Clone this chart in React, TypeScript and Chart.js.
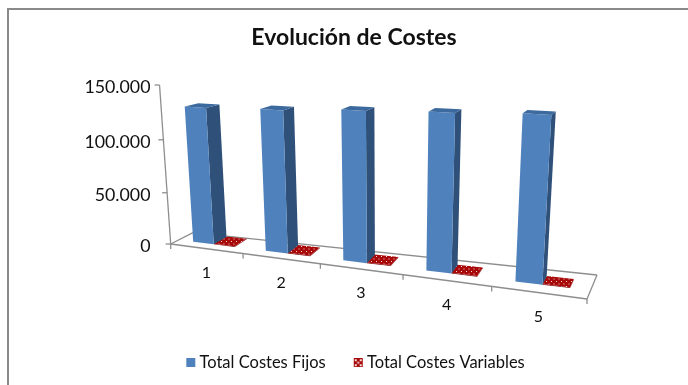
import React, { useEffect, useRef } from "react";
import { Chart, registerables } from "chart.js";

Chart.register(...registerables);

const categories = ["1", "2", "3", "4", "5"];
const fixedCosts = [127600, 129600, 133300, 135900, 138700];
const variableCosts = [700, 700, 700, 700, 700];
const yTickStep = 50000;
const yMax = 150000;

const FONT = "Lato, 'Open Sans', sans-serif";
const AXIS_COLOR = "#8e8e8e";
const FRAME_COLOR = "#8a8a8a";
const BLUE = { front: "#4f81bd", side: "#2f5179", top: "#3d6a9e" };
const RED = { base: "#a80808", side: "#7d0606", dot: "#f2dcdc" };

// Camera for the 3D look: floor corners on the canvas, plus where the verticals converge.
const floorFrontLeft = [170.7, 244];
const floorFrontRight = [587, 299];
const floorBackRight = [597, 275];
const floorBackLeft = [193, 232.7];
const verticalVanishing = [385, 3300];
const axisTop = [159, 85];
const foreshortening = -0.158;
const depthFlattening = 0.65;
const barDepthFront = 0.35;
const barDepthBackLeft = 0.97;
const barDepthBackRight = 0.68;

const lerp = (a: number, b: number, t: number) => a + (b - a) * t;
const lift = (axisTop[1] - floorFrontLeft[1]) / (verticalVanishing[1] - axisTop[1]);

// u: across the categories, n: share of the value axis, z: depth of the floor
function project(u: number, n: number, z: number): [number, number] {
  const w = 1 + foreshortening * u;
  const s = (u * (1 + foreshortening)) / w;
  const frontX = lerp(floorFrontLeft[0], floorFrontRight[0], s);
  const frontY = lerp(floorFrontLeft[1], floorFrontRight[1], s);
  const backX = lerp(floorBackLeft[0], floorBackRight[0], s);
  const backY = lerp(floorBackLeft[1], floorBackRight[1], s);
  const px = lerp(frontX, backX, z);
  // Behind the bars' front faces, depth reads flatter the higher a point sits.
  const pyFront = lerp(frontY, backY, Math.min(z, barDepthFront));
  const py = pyFront + (lerp(frontY, backY, z) - pyFront) * (1 - depthFlattening * n);
  return [
    (w * px + lift * n * verticalVanishing[0]) / (w + lift * n),
    (w * py + lift * n * verticalVanishing[1]) / (w + lift * n),
  ];
}

function fillQuad(ctx: CanvasRenderingContext2D, pts: [number, number][], fill: any) {
  ctx.beginPath();
  pts.forEach((p, i) => (i ? ctx.lineTo(p[0], p[1]) : ctx.moveTo(p[0], p[1])));
  ctx.closePath();
  ctx.fillStyle = fill;
  ctx.fill();
}

function strokeLine(ctx: CanvasRenderingContext2D, a: number[], b: number[]) {
  ctx.beginPath();
  ctx.moveTo(a[0], a[1]);
  ctx.lineTo(b[0], b[1]);
  ctx.stroke();
}

function makeDotPattern() {
  const tile = document.createElement("canvas");
  tile.width = 5;
  tile.height = 5;
  const c = tile.getContext("2d")!;
  c.fillStyle = RED.base;
  c.fillRect(0, 0, 5, 5);
  c.fillStyle = RED.dot;
  c.fillRect(1, 1, 1, 1);
  c.fillRect(3.5, 3.5, 1, 1);
  return c.createPattern(tile, "repeat")!;
}

// Legend swatches: the image is wider than its square so the square sits close to the text.
function makeSwatch(color: string, dotted: boolean) {
  const sw = document.createElement("canvas");
  sw.width = 16;
  sw.height = 9;
  const c = sw.getContext("2d")!;
  c.fillStyle = color;
  c.fillRect(5, 0, 9, 9);
  if (dotted) {
    c.fillStyle = RED.dot;
    [[6, 1], [11, 1], [8.5, 3.5], [6, 6], [11, 6]].forEach(([x, y]) => c.fillRect(x, y, 2, 2));
  }
  return sw;
}

const formatThousands = (v: number) => String(v).replace(/\B(?=(\d{3})+$)/g, ".");

const perspectiveAxes = {
  id: "perspectiveAxes",
  afterLayout(chart: any) {
    chart.legend.left += 2;
    chart.legend.right += 2;
  },
  beforeDatasetsDraw(chart: any) {
    const { ctx, scales } = chart;
    const xs = scales.x;
    const ys = scales.y;
    ctx.save();

    ctx.strokeStyle = FRAME_COLOR;
    ctx.lineWidth = 2;
    ctx.beginPath();
    ctx.moveTo(8, 385);
    ctx.lineTo(8, 9);
    ctx.lineTo(688, 9);
    ctx.stroke();

    ctx.strokeStyle = AXIS_COLOR;
    ctx.lineWidth = 1.3;
    const corners = [[0, 0], [1, 0], [1, 1], [0, 1]].map(([u, z]) => project(u, 0, z));
    corners.forEach((c, i) => strokeLine(ctx, c, corners[(i + 1) % 4]));
    strokeLine(ctx, project(0, 0, 0), project(0, 1, 0));

    ctx.fillStyle = "#111";
    ctx.textBaseline = "middle";
    ctx.font = `17.8px ${FONT}`;
    ctx.textAlign = "right";
    ys.ticks.forEach((t: any) => {
      const p = project(0, t.value / ys.max, 0);
      strokeLine(ctx, p, [p[0] - 5, p[1]]);
      ctx.fillText(formatThousands(t.value), 150.5, p[1] + 2);
    });

    const n = xs.ticks.length;
    ctx.font = `16px ${FONT}`;
    ctx.textAlign = "center";
    for (let i = 0; i <= n; i++) {
      const p = project(i / n, 0, 0);
      strokeLine(ctx, p, [p[0], p[1] + 5]);
    }
    xs.ticks.forEach((t: any, i: number) => {
      const p = project((xs.getPixelForTick(i) - chart.chartArea.left) / chart.chartArea.width, 0, 0);
      ctx.fillText(xs.getLabelForValue(t.value), p[0], p[1] + 24);
    });
    ctx.restore();
  },
  // Each bar is redrawn as a block standing on the floor.
  beforeDatasetDraw(chart: any, args: any) {
    const { ctx, chartArea: area } = chart;
    const flat = args.index === 1;
    ctx.save();
    args.meta.data.forEach((el: any) => {
      const { x, y, base, width } = el.getProps(["x", "y", "base", "width"], true);
      const u0 = (x - width / 2 - area.left) / area.width;
      const u1 = (x + width / 2 - area.left) / area.width;
      const nb = (area.bottom - base) / area.height;
      const nt = (area.bottom - y) / area.height;
      const zf = barDepthFront;
      const zb = lerp(barDepthBackLeft, barDepthBackRight, (u0 + u1) / 2);
      const front = [project(u0, nb, zf), project(u1, nb, zf), project(u1, nt, zf), project(u0, nt, zf)];
      const side = [project(u1, nb, zf), project(u1, nb, zb), project(u1, nt, zb), project(u1, nt, zf)];
      const top = [project(u0, nt, zf), project(u1, nt, zf), project(u1, nt, zb), project(u0, nt, zb)];
      fillQuad(ctx, side, flat ? RED.side : BLUE.side);
      fillQuad(ctx, front, flat ? RED.side : BLUE.front);
      fillQuad(ctx, top, flat ? el.options.backgroundColor : BLUE.top);
    });
    ctx.restore();
    return false;
  },
};

export default function App() {
  const ref = useRef<HTMLCanvasElement>(null);
  useEffect(() => {
    const swatches = [makeSwatch(BLUE.front, false), makeSwatch(RED.base, true)];
    const chart = new Chart(ref.current!, {
      type: "bar",
      data: {
        labels: categories,
        datasets: [
          { label: "Total Costes Fijos", data: fixedCosts, backgroundColor: BLUE.front, categoryPercentage: 0.58, barPercentage: 1 },
          { label: "Total Costes Variables", data: variableCosts, backgroundColor: makeDotPattern(), categoryPercentage: 0.58, barPercentage: 1 },
        ],
      },
      options: {
        responsive: false,
        animation: false,
        layout: { padding: { left: 20, bottom: 4 } },
        scales: {
          x: { display: false },
          y: { display: false, min: 0, max: yMax, ticks: { stepSize: yTickStep } },
        },
        plugins: {
          tooltip: { enabled: false },
          title: {
            display: true,
            text: "Evolución de Costes",
            color: "#111",
            font: { family: FONT, size: 23, weight: "bold" },
            padding: { top: 24, bottom: 10 },
          },
          legend: {
            position: "bottom",
            labels: {
              color: "#111",
              font: { family: FONT, size: 16.5 },
              usePointStyle: true,
              pointStyleWidth: 4,
              boxHeight: 10,
              padding: 29,
              generateLabels: (c: any) =>
                c.data.datasets.map((d: any, i: number) => ({
                  text: d.label,
                  fontColor: "#111",
                  pointStyle: swatches[i],
                  datasetIndex: i,
                  hidden: false,
                  lineWidth: 0,
                })),
            },
          },
        },
      },
      plugins: [perspectiveAxes],
    } as any);
    return () => chart.destroy();
  }, []);
  return (
    <div style={{ position: "fixed", left: 0, top: 0, background: "#fff" }}>
      <canvas ref={ref} width={688} height={385} style={{ display: "block" }} />
    </div>
  );
}
